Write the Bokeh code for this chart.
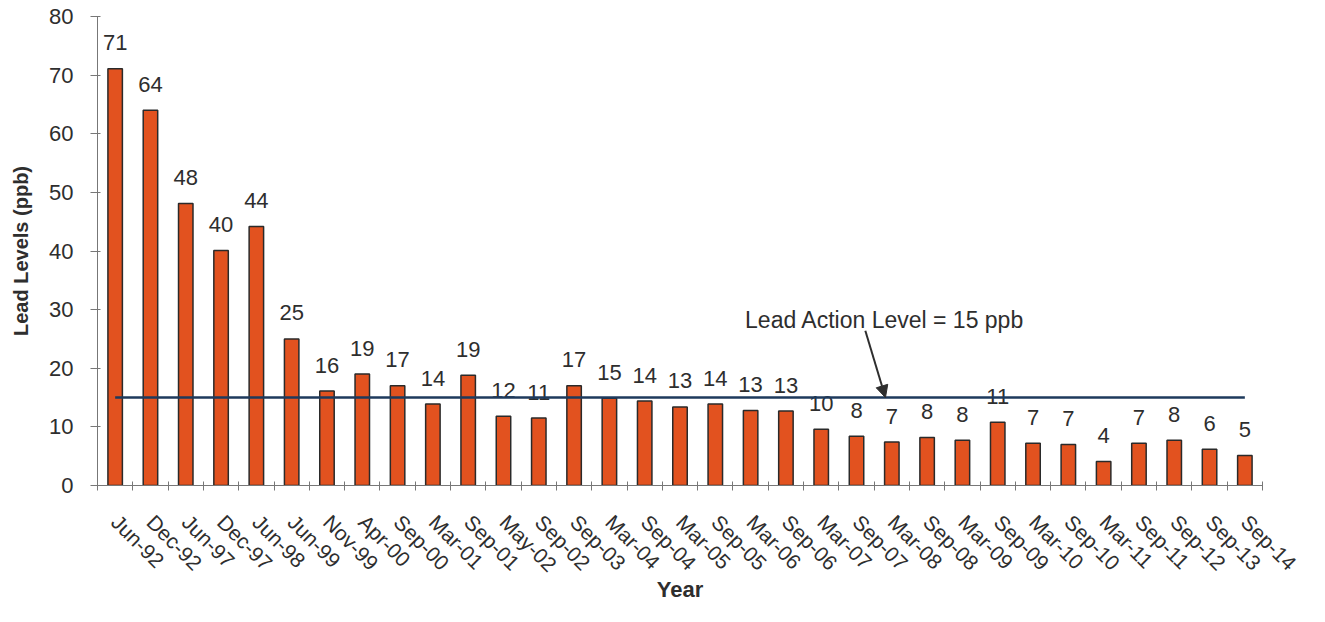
import math
from bokeh.plotting import figure
from bokeh.models import Range1d, FixedTicker, CustomJSTickFormatter, ColumnDataSource, Label, Arrow, NormalHead
from bokeh.core.properties import value
from bokeh.embed import file_html
from bokeh.resources import INLINE

dates = ["Jun-92", "Dec-92", "Jun-97", "Dec-97", "Jun-98", "Jun-99", "Nov-99", "Apr-00",
         "Sep-00", "Mar-01", "Sep-01", "May-02", "Sep-02", "Sep-03", "Mar-04", "Sep-04",
         "Mar-05", "Sep-05", "Mar-06", "Sep-06", "Mar-07", "Sep-07", "Mar-08", "Sep-08",
         "Mar-09", "Sep-09", "Mar-10", "Sep-10", "Mar-11", "Sep-11", "Sep-12", "Sep-13", "Sep-14"]
lead = [71.1, 64.0, 48.1, 40.1, 44.2, 25.0, 16.1, 19.0, 17.0, 13.9, 18.8, 11.8, 11.5,
        17.0, 14.9, 14.4, 13.4, 13.9, 12.8, 12.7, 9.6, 8.4, 7.4, 8.2, 7.7, 10.8, 7.2,
        7.0, 4.1, 7.2, 7.7, 6.2, 5.1]
lead_labels = ["71", "64", "48", "40", "44", "25", "16", "19", "17", "14", "19", "12", "11",
               "17", "15", "14", "13", "14", "13", "13", "10", "8", "7", "8", "8", "11", "7",
               "7", "4", "7", "8", "6", "5"]
y_ticks = [0, 10, 20, 30, 40, 50, 60, 70, 80]
ACTION_LEVEL = 15
action_text = "Lead Action Level = 15 ppb"
x_title = "Year"
y_title = "Lead Levels (ppb)"

FONT = "Liberation Sans"
TXT = "#2e2e2e"

n = len(dates)
centers = [i + 0.5 for i in range(n)]
bounds = [float(i) for i in range(n + 1)]

p = figure(width=1309, height=606, output_backend="svg", toolbar_location=None,
           x_range=Range1d(0, n), y_range=Range1d(0, 80),
           min_border_left=97, min_border_right=47, min_border_top=16, min_border_bottom=121)
p.outline_line_color = None
p.grid.grid_line_color = None
p.background_fill_color = "white"
p.border_fill_color = "white"

src = ColumnDataSource(dict(x=centers, top=lead, lab=lead_labels))
p.vbar(x="x", top="top", width=0.41, bottom=0, source=src,
       fill_color="#E2521F", line_color="#2a2a2a", line_width=1.5)

p.text(x="x", y="top", text="lab", source=src, text_align="center", text_baseline="middle",
       y_offset=-26, text_font=value(FONT), text_font_size="22px", text_color=TXT)

# action level line
p.line(x=[centers[0], centers[-1]], y=[ACTION_LEVEL, ACTION_LEVEL], line_color="#1E3A5C", line_width=2.5)

p.add_layout(Label(x=22.3, y=28.3, text=action_text, text_align="center", text_baseline="middle",
                   text_font=FONT, text_font_size="23px", text_color=TXT))
p.add_layout(Arrow(x_start=21.75, y_start=26.4, x_end=22.32, y_end=ACTION_LEVEL,
                   line_color="#2e2e2e", line_width=2,
                   end=NormalHead(size=12, fill_color="#2e2e2e", line_color="#2e2e2e")))

# x axis
xa = p.xaxis[0]
xa.ticker = FixedTicker(ticks=centers, minor_ticks=bounds)
xa.formatter = CustomJSTickFormatter(args=dict(labels=dates),
                                     code="return labels[Math.round(tick - 0.5)] || '';")
xa.major_tick_in = 0
xa.major_tick_out = 0
xa.minor_tick_in = 4
xa.minor_tick_out = 5
xa.minor_tick_line_color = "#777777"
xa.axis_line_color = "#777777"
xa.major_label_orientation = -math.pi / 4
xa.major_label_standoff = 28
xa.major_label_text_font = FONT
xa.major_label_text_font_size = "21px"
xa.major_label_text_color = TXT
xa.axis_label = x_title
xa.axis_label_text_font = FONT
xa.axis_label_text_font_size = "22px"
xa.axis_label_text_font_style = "bold"
xa.axis_label_text_color = TXT
xa.axis_label_standoff = -10

ya = p.yaxis[0]
ya.ticker = FixedTicker(ticks=y_ticks)
ya.minor_tick_line_color = None
ya.major_tick_in = 3
ya.major_tick_out = 7
ya.major_tick_line_color = "#777777"
ya.axis_line_color = "#777777"
ya.major_label_standoff = 17
ya.major_label_text_font = FONT
ya.major_label_text_font_size = "22px"
ya.major_label_text_color = TXT
ya.axis_label = y_title
ya.axis_label_text_font = FONT
ya.axis_label_text_font_size = "20px"
ya.axis_label_text_font_style = "bold"
ya.axis_label_text_color = TXT
ya.axis_label_standoff = 14

open("out.html", "w").write(file_html(p, INLINE))
